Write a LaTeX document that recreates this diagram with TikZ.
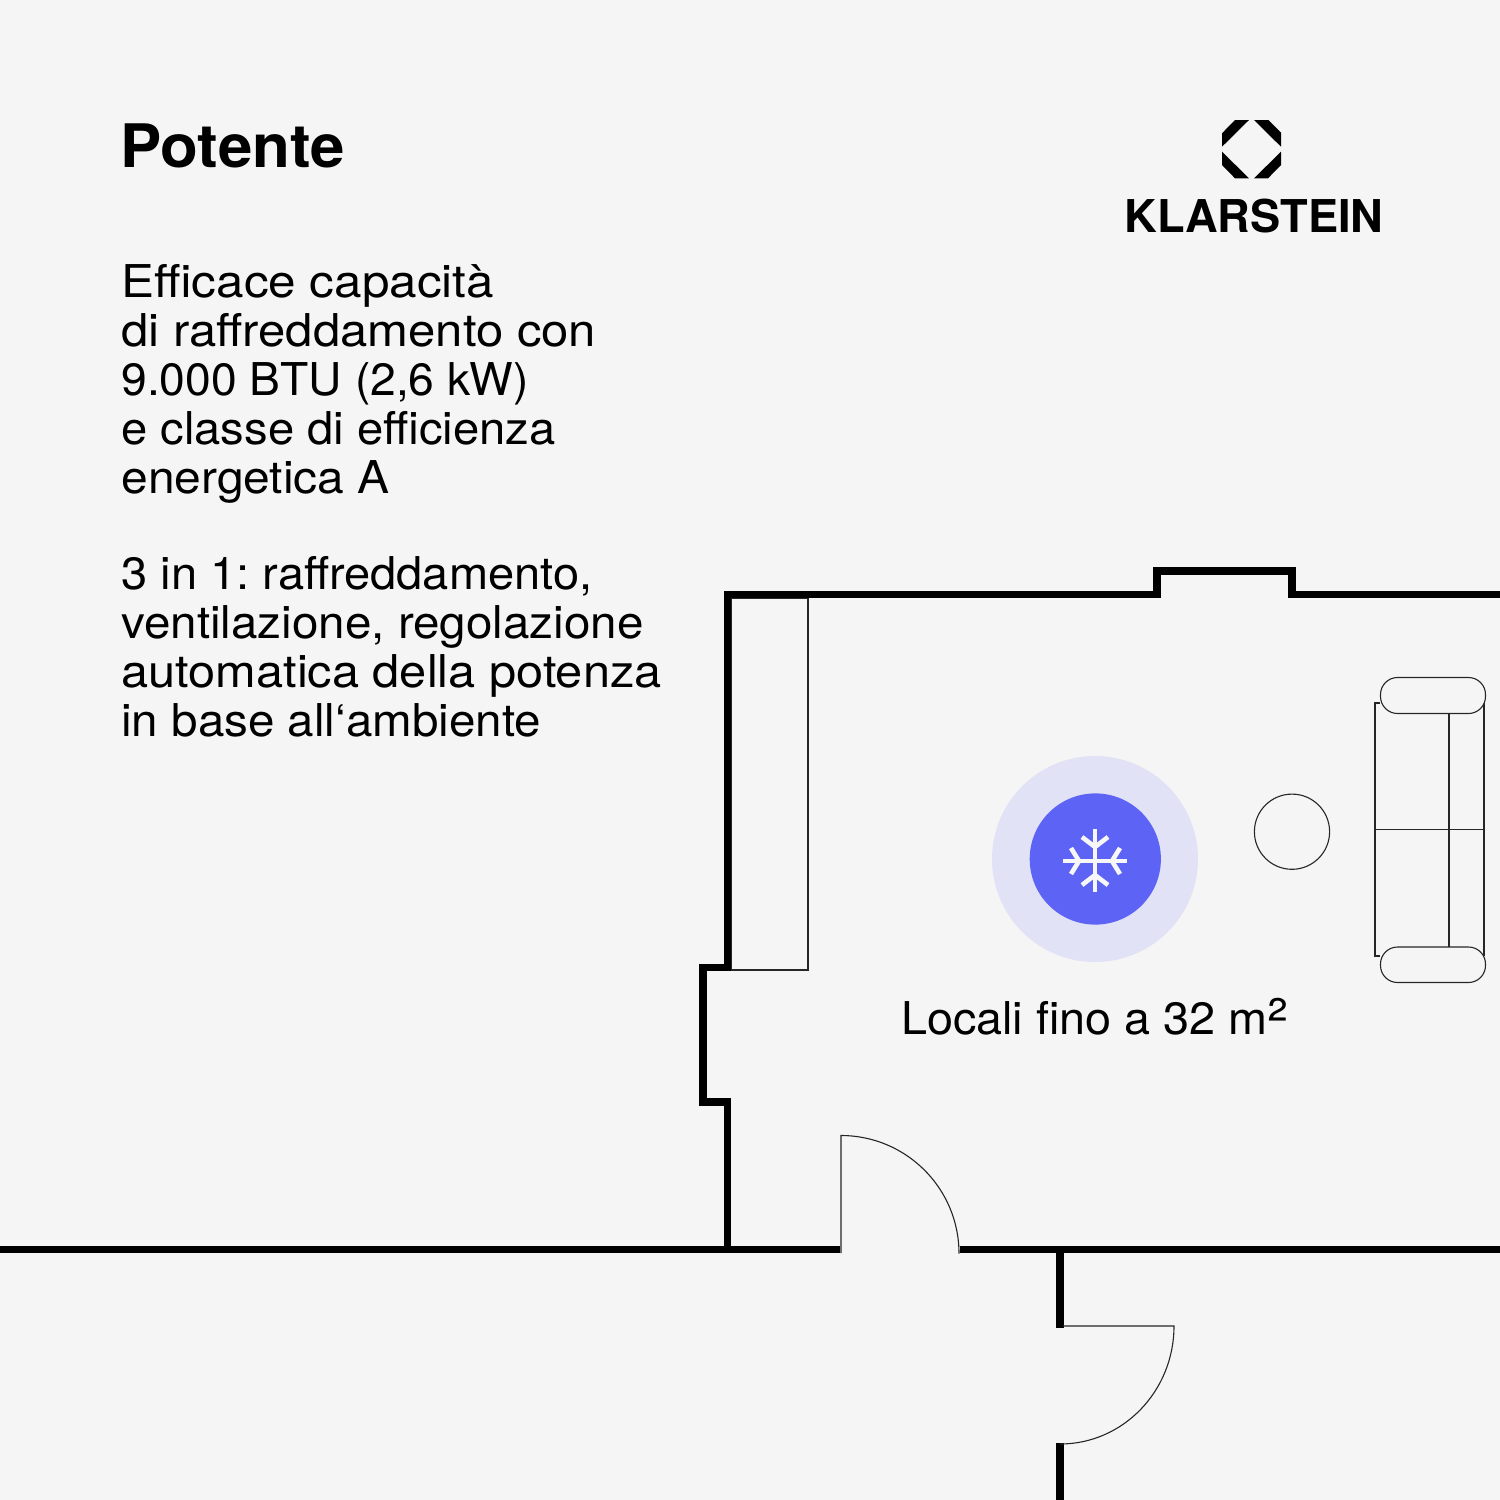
\documentclass[tikz,border=0pt]{standalone}
\usepackage{fontspec}
\setmainfont[FakeStretch=1.085]{TeX Gyre Heros}
\newfontfamily\headfont[BoldFont=*,FakeStretch=1.03]{TeX Gyre Heros Bold}
\newfontfamily\logofont[FakeStretch=1.0]{TeX Gyre Heros Bold}
\newfontfamily\labelfont[FakeStretch=1.035]{TeX Gyre Heros}
\newcommand{\fitln}[2]{\scalebox{#1}[1]{#2}}
\definecolor{bgc}{HTML}{F5F5F5}
\definecolor{halo}{HTML}{E1E2F6}
\definecolor{disc}{HTML}{5C63F5}
\tikzset{
  wall/.style={line width=3.6pt,black,line cap=butt,line join=miter},
  thin/.style={line width=0.55pt,black!85},
  cushion/.style={thin,fill=bgc,rounded corners=8.5pt},
  flake/.style={line width=2.3pt,white!97!black},
  body/.style={anchor=base west,inner sep=0pt,align=left,font=\frenchspacing\fontsize{22.6}{24.45}\selectfont},
  logobit/.style={fill=black,draw=none}
}
\begin{document}
\begin{tikzpicture}[x=0.5pt,y=-0.5pt]
\fill[bgc] (0,0) rectangle (1500,1500);
\useasboundingbox (0,0) rectangle (1500,1500);
% text
\node[anchor=base west,inner sep=0pt,font=\fontsize{30}{32}\selectfont\headfont] (title) at (120,167) {Potente};
\node[body,anchor=north west] (para1) at (121,264) {\fitln{1.008}{Efficace capacità}\\di raffreddamento con\\\fitln{0.942}{9.000 BTU (2,6 kW)}\\\fitln{0.962}{e classe di efficienza}\\\fitln{0.978}{energetica A}};
\node[body,anchor=north west] (para2) at (121,556) {\fitln{0.959}{3 in 1: raffreddamento,}\\\fitln{0.97}{ventilazione, regolazione}\\\fitln{0.994}{automatica della potenza}\\\fitln{0.97}{in base all‘ambiente}};
\node[anchor=base,inner sep=0pt,font=\fontsize{22.6}{24}\selectfont\labelfont] (label) at (1095,1034) {Locali fino a 32 m\raisebox{-3.5pt}{\scalebox{1.35}{²}}};
\node[anchor=base,inner sep=0pt,font=\fontsize{22.6}{24}\selectfont\logofont] (brand) at (1254,232) {KLARSTEIN};
% logo
\fill[logobit] (1235,120)--(1249,120)--(1222,146.7)--(1222,133.3)--cycle;
\fill[logobit] (1254,120)--(1268.3,120)--(1281,132.7)--(1281,146.7)--cycle;
\fill[logobit] (1222,151.7)--(1249,178.3)--(1235,178.3)--(1222,165)--cycle;
\fill[logobit] (1281,151.7)--(1281,165)--(1268,178.3)--(1254,178.3)--cycle;
% closet
\draw[thin] (731,598) rectangle (808,970);
% walls
\draw[wall] (1500,594.5)--(1292,594.5)--(1292,571)--(1157,571)--(1157,594.5)--(727.5,594.5)--(727.5,967.5)--(703,967.5)--(703,1102)--(727.5,1102)--(727.5,1249.5);
\draw[wall] (0,1249.5)--(840,1249.5);
\draw[wall] (960,1249.5)--(1500,1249.5);
\draw[wall] (1060,1246)--(1060,1327.5);
\draw[wall] (1060,1443)--(1060,1500);
% doors
\draw[thin] (841,1253)--(841,1135.5) arc[start angle=90,end angle=0,radius=59pt];
\draw[thin] (1063,1326)--(1174,1326) arc[start angle=0,end angle=-90,x radius=57pt,y radius=59pt];
% sofa
\draw[thin] (1380,703)--(1375,703)--(1375,956)--(1380,956);
\draw[thin] (1484,703)--(1484,956);
\draw[thin] (1375,829.5)--(1484,829.5);
\draw[thin] (1449,713)--(1449,947);
\draw[cushion] (1380.5,677.5) rectangle (1485.5,713.5);
\draw[cushion] (1380.5,947) rectangle (1485.5,982.5);
\draw[thin] (1292,831.7) circle[radius=18.8pt];
% cooling symbol
\fill[halo] (1095,859) circle[radius=51.5pt];
\fill[disc] (1095.3,859) circle[radius=32.8pt];
\draw[flake] (1063,861)--(1127,861);
\draw[flake] (1095,829)--(1095,892);
\draw[flake] (1082,837)--(1095,847)--(1108,837);
\draw[flake] (1082,885)--(1095,875)--(1108,885);
\draw[flake] (1071,848)--(1079,861)--(1071,874);
\draw[flake] (1120,848)--(1112,861)--(1120,874);
\end{tikzpicture}
\end{document}
